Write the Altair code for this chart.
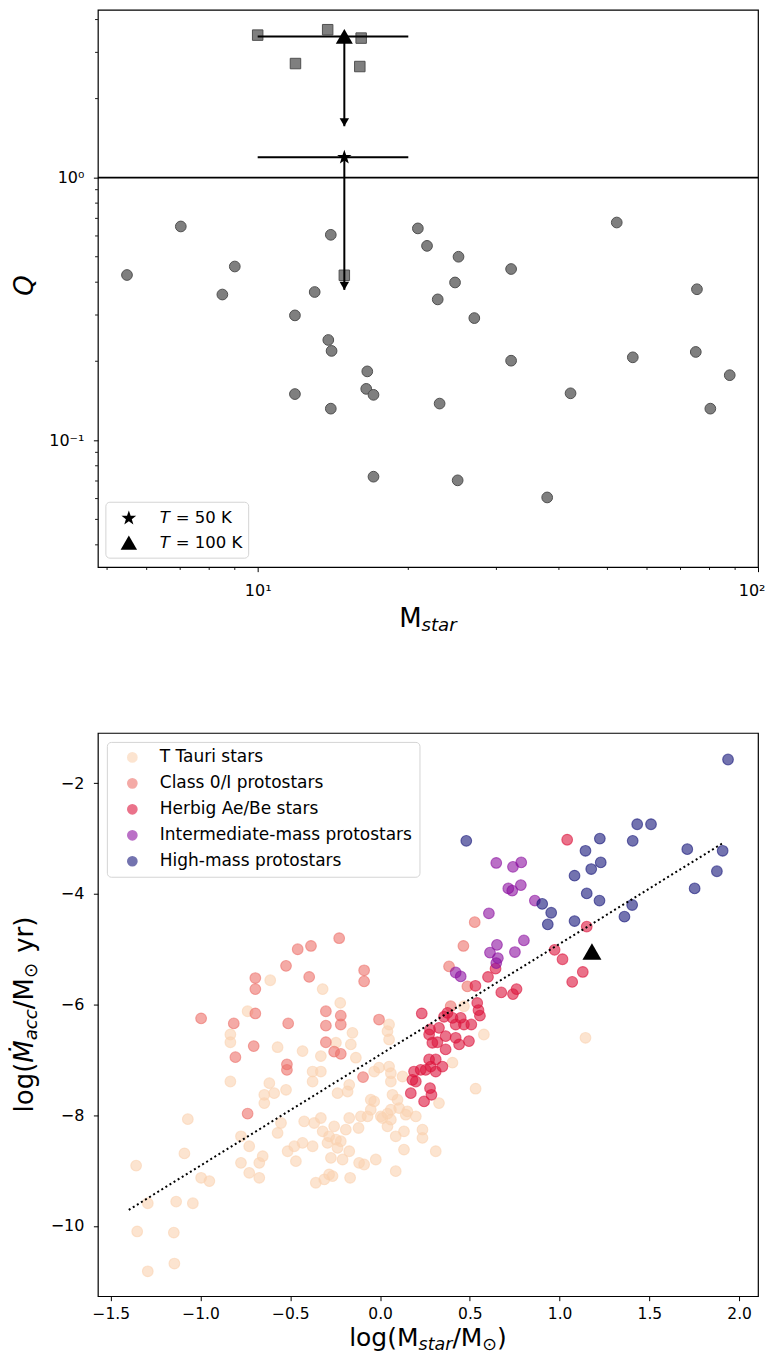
import math
import altair as alt
import pandas as pd

# ---------------- upper panel data ----------------
circ_mstar = [5.48, 7.02, 9.0, 8.5, 14.0, 13.0, 11.87, 13.84, 14.05, 16.56, 16.48, 17.04,
              11.87, 14.0, 17.04, 20.9, 21.8, 25.2, 32.1, 52.2, 75.5, 24.8, 22.9, 27.1,
              32.1, 56.2, 75.1, 87.8, 42.2, 23.1, 80.3, 25.1, 37.9]
circ_q = [0.426, 0.652, 0.459, 0.359, 0.606, 0.367, 0.299, 0.241, 0.219, 0.183, 0.157, 0.149,
          0.150, 0.132, 0.0727, 0.641, 0.550, 0.50, 0.449, 0.675, 0.376, 0.399, 0.344, 0.292,
          0.201, 0.207, 0.217, 0.177, 0.151, 0.138, 0.132, 0.0704, 0.0606]
sq_mstar = [10.0, 13.8, 16.1, 11.9, 16.0, 14.9]
sq_q = [3.49, 3.66, 3.40, 2.72, 2.65, 0.425]

temp_labels = ["T", "T"]
temp_values = ["= 50 K", "= 100 K"]
temp_mstar = [14.9, 14.9]
temp_q = [1.195, 3.45]
temp_m_lo = [10.0, 10.0]
temp_m_hi = [20.0, 20.0]
temp_q_lo = [0.374, 1.57]
q_threshold = [1.0]

x_major_top = [10, 100]
x_minor_top = [5, 6, 7, 8, 9, 20, 30, 40, 50, 60, 70, 80, 90]
y_major_top = [0.1, 1]
y_minor_top = [0.04, 0.05, 0.06, 0.07, 0.08, 0.09, 0.2, 0.3, 0.4, 0.5, 0.6, 0.7,
               0.8, 0.9, 2, 3, 4]

# ---------------- lower panel data ----------------
cats = ["T Tauri stars", "Class 0/I protostars", "Herbig Ae/Be stars",
        "Intermediate-mass protostars", "High-mass protostars"]
cat_colors = ["#fad2b1", "#ed716b", "#dc143c", "#8c10a0", "#16167a"]

tt_x = [-1.359, -1.294, -1.353, -1.294, -1.149, -1.146, -1.136, -1.043, -1.09, -1.071, -0.997, -0.951,
        -0.834, -0.834, -0.834, -0.738, -0.775, -0.775, -0.729, -0.729, -0.673, -0.673, -0.654, -0.645,
        -0.645, -0.617, -0.571, -0.59, -0.571, -0.524, -0.515, -0.469, -0.478, -0.432, -0.432, -0.376,
        -0.376, -0.367, -0.358, -0.33, -0.33, -0.33, -0.32, -0.311, -0.284, -0.284, -0.274, -0.256,
        -0.246, -0.237, -0.222, -0.219, -0.209, -0.191, -0.172, -0.172, -0.172, -0.167, -0.154, -0.135,
        -0.117, -0.107, -0.089, -0.07, -0.052, -0.024, -0.006, 0.004, 0.041, 0.05, 0.05, 0.06,
        0.041, 0.087, 0.087, 0.097, 0.106,
        -0.552, -0.423, -0.293, -0.376, -0.246, -0.163, -0.033, 0.125, -0.181, 0.069, -0.033, -0.052,
        0.06, 0.152, 0.199, 0.328, 0.403, 0.532, 0.013, 0.06, -0.12, 0.133, 0.236, 0.236, -0.237,
        0.133, 0.31, -0.265, 1.144, 0.578, 0.143, 0.06, 0.041, 0.05, 0.467, -0.612, -0.32]
tt_y = [-8.91, -9.59, -10.10, -10.82, -10.12, -10.68, -9.56, -9.59, -8.69, -8.07, -9.13, -9.19,
        -6.54, -6.68, -7.39, -6.12, -8.38, -8.86, -8.56, -9.04, -9.13, -8.86, -8.74, -7.63,
        -7.78, -7.42, -6.77, -7.60, -8.32, -7.54, -8.65, -8.83, -8.56, -6.84, -8.50, -7.21,
        -7.39, -8.14, -9.22, -6.93, -7.21, -8.05, -8.29, -9.16, -8.38, -9.07, -8.77, -8.20,
        -6.69, -7.60, -5.97, -8.47, -8.80, -8.26, -7.45, -8.05, -8.65, -9.13, -6.51, -6.96,
        -8.86, -8.02, -8.89, -8.02, -7.72, -8.80, -7.14, -8.02, -6.48, -6.63, -7.12, -7.39,
        -8.20, -8.38, -9.01, -7.72, -7.87,
        -8.14, -8.11, -8.50, -8.56, -8.44, -6.72, -7.21, -7.30, -7.57, -7.63, -7.75, -7.90,
        -7.90, -7.93, -8.02, -7.78, -7.05, -7.52, -8.05, -8.08, -8.23, -8.29, -8.26, -8.41, -8.59,
        -8.62, -8.65, -9.10, -6.60, -6.54, -7.99, -7.24, -7.97, -6.36, -6.03, -5.56, -5.72]

c0_x = [-0.228, -0.459, -0.385, -0.524, -0.089, -0.089, -0.695, -0.695, -0.395,
        -0.997, -0.815, -0.695, -0.512, -0.302, -0.302, -0.219, -0.219, -0.006,
        -0.704, -0.806, -0.302, -0.256, -0.219, -0.519, -0.519, -0.095, -0.738,
        0.527, 0.464, 0.384, 0.486, 0.393]
c0_y = [-4.80, -5.00, -4.94, -5.30, -5.38, -5.58, -5.52, -5.72, -5.50,
        -6.25, -6.34, -6.16, -6.34, -6.12, -6.38, -6.20, -6.36, -6.27,
        -6.75, -6.95, -6.68, -6.85, -6.89, -7.08, -7.18, -7.31, -7.97,
        -4.51, -4.94, -5.31, -5.67, -6.03]

hb_x = [1.042, 1.151, 0.972, 1.016, 1.129, 1.070, 0.643, 0.601, 0.531, 0.675, 0.740, 0.760,
        0.541, 0.548, 0.556, 0.232, 0.375, 0.356, 0.403, 0.449, 0.467, 0.508, 0.421, 0.328,
        0.278, 0.273, 0.365, 0.319, 0.291, 0.421, 0.440, 0.495, 0.365, 0.273, 0.310, 0.282,
        0.226, 0.189, 0.254, 0.310, 0.347, 0.180, 0.199, 0.171, 0.278, 0.286, 0.245]
hb_y = [-3.02, -4.59, -5.01, -5.18, -5.41, -5.59, -5.35, -5.50, -5.66, -5.78, -5.81, -5.72,
        -5.97, -6.10, -6.20, -6.16, -6.15, -6.22, -6.24, -6.24, -6.36, -6.36, -6.36, -6.42,
        -6.45, -6.54, -6.57, -6.68, -6.69, -6.60, -6.72, -6.66, -6.81, -6.99, -6.99, -7.12,
        -7.18, -7.21, -7.18, -7.21, -7.12, -7.36, -7.39, -7.60, -7.51, -7.63, -7.75]

im_x = [0.647, 0.740, 0.786, 0.714, 0.736, 0.784, 0.862, 0.606, 0.801, 0.651, 0.612, 0.751,
        0.656, 0.647, 0.421, 0.449]
im_y = [-3.44, -3.51, -3.43, -3.90, -3.94, -3.84, -4.12, -4.35, -4.84, -4.92, -5.06, -5.05,
        -5.16, -5.25, -5.42, -5.49]

hm_x = [1.938, 0.48, 1.432, 1.509, 1.224, 1.407, 1.144, 1.711, 1.908, 1.229, 1.176, 1.083,
        1.876, 1.752, 1.151, 1.222, 1.404, 1.361, 0.953, 0.903, 0.934, 1.083]
hm_y = [-1.57, -3.04, -2.74, -2.74, -3.00, -3.04, -3.22, -3.19, -3.22, -3.43, -3.55, -3.67,
        -3.59, -3.90, -3.99, -4.12, -4.20, -4.41, -4.34, -4.18, -4.55, -4.49]

fit_x = [-1.40, 1.91]
fit_y = [-9.71, -3.08]
model_x = [1.18]
model_y = [-5.04]

x_ticks_bot = [-1.5, -1.0, -0.5, 0.0, 0.5, 1.0, 1.5, 2.0]
y_ticks_bot = [-10, -8, -6, -4, -2]

# ---------------- helpers (layout / styling only) ----------------
EM = {'l': 0.278, 'o': 0.612, 'g': 0.635, '(': 0.390, ')': 0.390, 'M': 0.863, 'Ṁ': 0.863,
      '/': 0.337, ' ': 0.318, 'y': 0.592, 'r': 0.411, 's': 0.521, 't': 0.392,
      'a': 0.613, 'c': 0.550, '⊙': 0.838, 'Q': 0.787}


def tw(s, size):
    return sum(EM.get(ch, 0.6) for ch in s) * size


def one(t):
    return alt.Chart(pd.DataFrame({"t": [t]}))


def htitle(segs, cx, base_y):
    total = sum(tw(t, s) for t, s, st, sub in segs)
    x = cx - total / 2
    out = []
    for t, s, st, sub in segs:
        if t.strip():
            out.append(one(t).mark_text(align="left", baseline="alphabetic", fontSize=s,
                                        fontStyle=st, color="black")
                       .encode(text="t:N", x=alt.value(x), y=alt.value(base_y + sub)))
        x += tw(t, s)
    return out


def vtitle(segs, cy, base_x):
    total = sum(tw(t, s) for t, s, st, sub in segs)
    y = cy + total / 2
    out = []
    for t, s, st, sub in segs:
        if t.strip():
            out.append(one(t).mark_text(align="left", baseline="alphabetic", fontSize=s,
                                        fontStyle=st, angle=270, color="black")
                       .encode(text="t:N", x=alt.value(base_x + sub), y=alt.value(y)))
        y -= tw(t, s)
    return out


def star_path():
    pts = []
    for k in range(10):
        ang = math.radians(-90 + 36 * k)
        r = 1.0 if k % 2 == 0 else 0.4
        pts.append((r * math.cos(ang), r * math.sin(ang)))
    return "M" + "L".join(f"{px:.3f},{py:.3f}" for px, py in pts) + "Z"


STAR = star_path()
FT = 26
FS = FT * 0.7
SUB = 4
LBL = 16
LEG = 17

# ---------------- upper panel ----------------
W1, H1 = 661, 558
xs_top = alt.Scale(type="log", domain=[4.793, 100], nice=False)
ys_top = alt.Scale(type="log", domain=[0.03289, 4.354], nice=False)

x_axis_top = alt.Axis(values=x_major_top, title=None, domain=False, grid=False,
                      labelFlush=1, labelFlushOffset=7, labelOverlap=False,
                      labelExpr="datum.value == 10 ? '10¹' : '10²'",
                      tickSize=4.5, tickColor="black", tickWidth=1, labelColor="black",
                      labelFontSize=LBL, labelPadding=11)
y_axis_top = alt.Axis(values=y_major_top, title=None, domain=False, grid=False,
                      labelFlush=False, labelOverlap=False,
                      labelExpr="datum.value == 1 ? '10⁰' : '10⁻¹'",
                      tickSize=4.5, tickColor="black", tickWidth=1, labelColor="black",
                      labelFontSize=LBL, labelPadding=9.5)


def XT(f):
    return alt.X(f, type="quantitative", scale=xs_top, axis=x_axis_top)


def YT(f):
    return alt.Y(f, type="quantitative", scale=ys_top, axis=y_axis_top)


df_circ = pd.DataFrame({"m": circ_mstar, "q": circ_q})
df_sq = pd.DataFrame({"m": sq_mstar, "q": sq_q})
df_temp = pd.DataFrame({"m": temp_mstar, "q": temp_q, "mlo": temp_m_lo, "mhi": temp_m_hi,
                        "qlo": temp_q_lo})

# minor ticks (outside the frame, like matplotlib minor ticks)
minor_x = alt.Chart(pd.DataFrame({"v": x_minor_top})).mark_rule(
    color="black", strokeWidth=0.9).encode(x=XT("v"), y=alt.value(H1), y2=alt.value(H1 + 2.8))
minor_y = alt.Chart(pd.DataFrame({"v": y_minor_top})).mark_rule(
    color="black", strokeWidth=0.9).encode(y=YT("v"), x=alt.value(0), x2=alt.value(-2.8))

hline = alt.Chart(pd.DataFrame({"q": q_threshold})).mark_rule(
    color="black", strokeWidth=1.8).encode(y=YT("q"))
circles = alt.Chart(df_circ).mark_point(filled=True, shape="circle", size=115,
                                        fill="#7f7f7f", fillOpacity=1, stroke="#4f4f4f",
                                        strokeWidth=1, strokeOpacity=1).encode(x=XT("m"), y=YT("q"))
squares = alt.Chart(df_sq).mark_point(filled=True, shape="square", size=110,
                                      fill="#7f7f7f", fillOpacity=1, stroke="#4f4f4f",
                                      strokeWidth=1, strokeOpacity=1).encode(x=XT("m"), y=YT("q"))
hbars = alt.Chart(df_temp).mark_rule(color="black", strokeWidth=2).encode(
    x=XT("mlo"), x2="mhi", y=YT("q"))
vbars = alt.Chart(df_temp).mark_rule(color="black", strokeWidth=2).encode(
    x=XT("m"), y=YT("qlo"), y2="q")
heads = alt.Chart(df_temp).mark_point(shape="triangle-down", filled=True, size=90,
                                      color="black", opacity=1, yOffset=-4).encode(
    x=XT("m"), y=YT("qlo"))
star_mk = alt.Chart(df_temp.iloc[[0]]).mark_point(shape=STAR, filled=True, size=230,
                                                  color="black", opacity=1).encode(
    x=XT("m"), y=YT("q"))
tri_mk = alt.Chart(df_temp.iloc[[1]]).mark_point(shape="triangle-up", filled=True, size=290,
                                                 color="black", opacity=1).encode(
    x=XT("m"), y=YT("q"))

# legend (upper panel)
leg_box = one("box").mark_rect(fill="white", stroke="#d4d4d4", strokeWidth=1,
                               cornerRadius=4).encode(
    x=alt.value(8), x2=alt.value(151), y=alt.value(H1 - 65), y2=alt.value(H1 - 9))
row_y = [H1 - 49, H1 - 24.5]
leg_star = one("s").mark_point(shape=STAR, filled=True, size=240, color="black",
                               opacity=1).encode(x=alt.value(31), y=alt.value(row_y[0]))
leg_tri = one("t").mark_point(shape="triangle-up", filled=True, size=270, color="black",
                              opacity=1).encode(x=alt.value(31), y=alt.value(row_y[1]))
leg_texts = []
for i in range(2):
    leg_texts.append(one(temp_labels[i]).mark_text(align="left", baseline="middle",
                                                   fontSize=16.5, fontStyle="italic",
                                                   color="black")
                     .encode(text="t:N", x=alt.value(62), y=alt.value(row_y[i])))
    leg_texts.append(one(temp_values[i]).mark_text(align="left", baseline="middle",
                                                   fontSize=16.5, color="black")
                     .encode(text="t:N", x=alt.value(78), y=alt.value(row_y[i])))

top_titles = htitle([("M", FT, "normal", 0), ("star", FS, "italic", SUB)], W1 / 2, H1 + 60)
top_titles += vtitle([("Q", FT, "italic", 0)], H1 / 2 - 3, -65)

top = alt.layer(hline, minor_x, minor_y, circles, squares, hbars, vbars, heads, star_mk,
                tri_mk, leg_box, leg_star, leg_tri, *leg_texts, *top_titles).properties(
    width=W1, height=H1)

# ---------------- lower panel ----------------
W2, H2 = 661, 564
xs_bot = alt.Scale(domain=[-1.572, 2.105], nice=False, zero=False)
ys_bot = alt.Scale(domain=[-11.27, -1.09], nice=False, zero=False)
x_axis_bot = alt.Axis(values=x_ticks_bot, format=".1f", title=None, domain=False, grid=False,
                      labelFlush=False, labelOverlap=False, tickSize=4.5, tickColor="black",
                      labelColor="black", labelFontSize=15.5, labelPadding=6)
y_axis_bot = alt.Axis(values=y_ticks_bot, format="d", title=None, domain=False, grid=False,
                      labelFlush=False, labelOverlap=False, tickSize=4.5, tickColor="black",
                      labelColor="black", labelFontSize=LBL, labelPadding=9.5)


def XB(f):
    return alt.X(f, type="quantitative", scale=xs_bot, axis=x_axis_bot)


def YB(f):
    return alt.Y(f, type="quantitative", scale=ys_bot, axis=y_axis_bot)


groups = [(tt_x, tt_y), (c0_x, c0_y), (hb_x, hb_y), (im_x, im_y), (hm_x, hm_y)]
rows = []
for name, (gx, gy) in zip(cats, groups):
    for a, b in zip(gx, gy):
        rows.append({"x": a, "y": b, "cat": name})
df_bot = pd.DataFrame(rows)

cscale = alt.Scale(domain=cats, range=cat_colors)
pts = alt.Chart(df_bot).mark_point(filled=True, shape="circle", size=115, fillOpacity=0.6,
                                   strokeOpacity=0.6, strokeWidth=1.1).encode(
    x=XB("x"), y=YB("y"),
    fill=alt.Fill("cat:N", scale=cscale, sort=cats,
                  legend=alt.Legend(title=None, orient="top-left", offset=9, padding=7,
                                    symbolOffset=10, symbolType="circle", symbolSize=115,
                                    symbolOpacity=0.6, symbolStrokeWidth=0,
                                    labelFontSize=LEG, labelColor="black", labelOffset=19,
                                    labelLimit=500, rowPadding=8, fillColor="white",
                                    strokeColor="#d4d4d4", cornerRadius=4)),
    stroke=alt.Stroke("cat:N", scale=cscale, sort=cats, legend=None))

fit = alt.Chart(pd.DataFrame({"x": fit_x, "y": fit_y})).mark_line(
    color="black", strokeWidth=2, strokeDash=[2, 2.8]).encode(x=XB("x"), y=YB("y"))
model = alt.Chart(pd.DataFrame({"x": model_x, "y": model_y})).mark_point(
    shape="triangle-up", filled=True, size=360, color="black", opacity=1).encode(
    x=XB("x"), y=YB("y"))

FX = 25
bot_titles = htitle([("log(", FX, "normal", 0), ("M", FX, "normal", 0),
                     ("star", FX * 0.7, "italic", SUB), ("/M", FX, "normal", 0),
                     ("⊙", FX * 0.7, "normal", SUB), (")", FX, "normal", 0)], W2 / 2, H2 + 50)
bot_titles += vtitle([("log(", FT, "normal", 0), ("Ṁ", FT, "italic", 0),
                      ("acc", FS, "italic", SUB), ("/M", FT, "normal", 0),
                      ("⊙", FS, "normal", SUB), ("  ", FT * 0.6, "normal", 0),
                      ("yr)", FT, "normal", 0)], H2 / 2, -65)

bottom = alt.layer(pts, fit, model, *bot_titles).properties(width=W2, height=H2)

chart = alt.vconcat(top, bottom, spacing=97).resolve_scale(
    fill="independent", stroke="independent"
).resolve_legend(
    fill="independent", stroke="independent"
).properties(
    padding={"left": 3, "top": 0, "right": 0, "bottom": 0}
).configure(font="DejaVu Sans").configure_view(stroke="black", strokeWidth=1.2)

chart.save("out.html", embed_options={"renderer": "svg", "actions": False})
